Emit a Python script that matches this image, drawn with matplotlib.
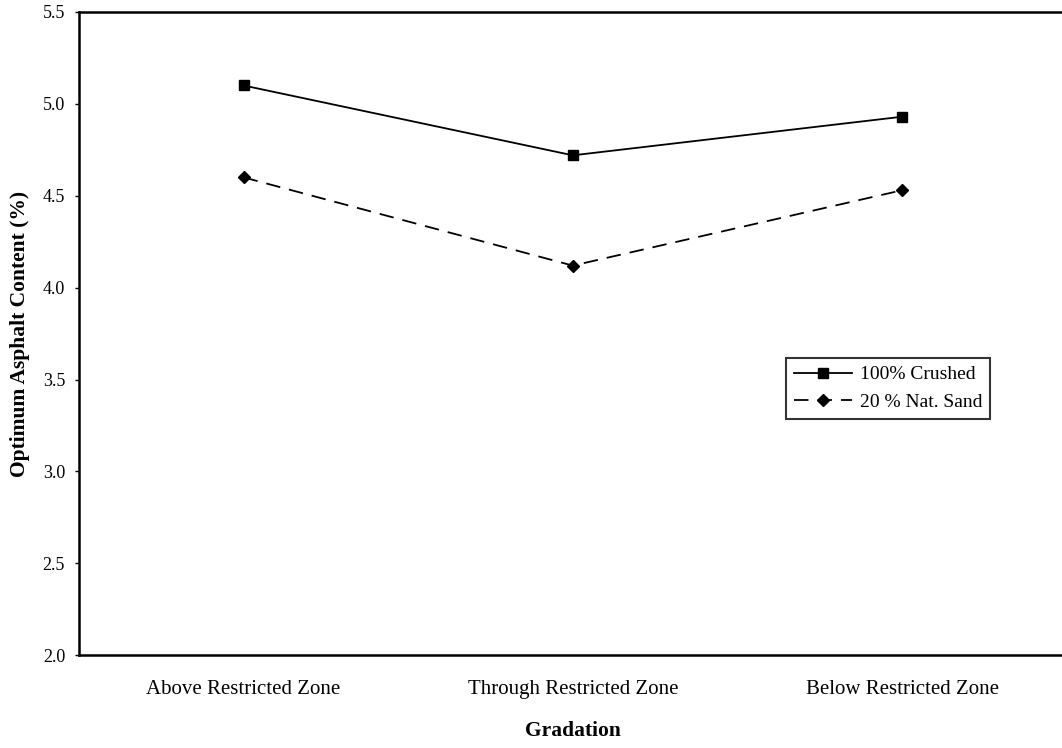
import matplotlib
matplotlib.use("Agg")
import matplotlib.pyplot as plt

categories = ['Above Restricted Zone', 'Through Restricted Zone', 'Below Restricted Zone']
crushed = [5.10, 4.72, 4.93]
nat_sand = [4.60, 4.12, 4.53]
y_ticks = [2.0, 2.5, 3.0, 3.5, 4.0, 4.5, 5.0, 5.5]

plt.rcParams['font.family'] = ['Liberation Serif', 'DejaVu Serif']

fig = plt.figure(figsize=(10.62, 7.48), dpi=100)
ax = fig.add_axes([0.0744, 0.124, 0.93, 0.86])

x = list(range(len(categories)))
ax.plot(x, crushed, color='black', linewidth=1.3, marker='s', markersize=7,
        label='100% Crushed')
ax.plot(x, nat_sand, color='black', linewidth=1.3, linestyle=(0, (8, 5)),
        marker='D', markersize=6, label='20 % Nat. Sand')

ax.set_xlim(-0.5, 2.5)
ax.set_ylim(2.0, 5.5)
ax.set_yticks(y_ticks)
ax.set_yticklabels([f'{v:.1f}' for v in y_ticks])
ax.set_xticks(x)
ax.set_xticklabels(categories, fontsize=15)
ax.tick_params(axis='x', length=0, pad=18)
ax.tick_params(axis='y', direction='out', length=3, width=1, labelsize=13, pad=7)

for side in ['left', 'bottom', 'top']:
    ax.spines[side].set_linewidth(1.8)
ax.spines['right'].set_visible(False)

ax.set_ylabel('Optimum Asphalt Content (%)', fontsize=15.5, fontweight='bold', labelpad=9)
ax.set_xlabel('Gradation', fontsize=15.5, fontweight='bold', labelpad=16)

leg = ax.legend(loc='upper left', bbox_to_anchor=(0.716, 0.462), fontsize=14,
                frameon=True, fancybox=False, edgecolor='black', handlelength=3,
                borderpad=0.4, labelspacing=0.5, handletextpad=0.4, borderaxespad=0)
leg.get_frame().set_linewidth(1.5)

fig.savefig('out.png', dpi=100)
